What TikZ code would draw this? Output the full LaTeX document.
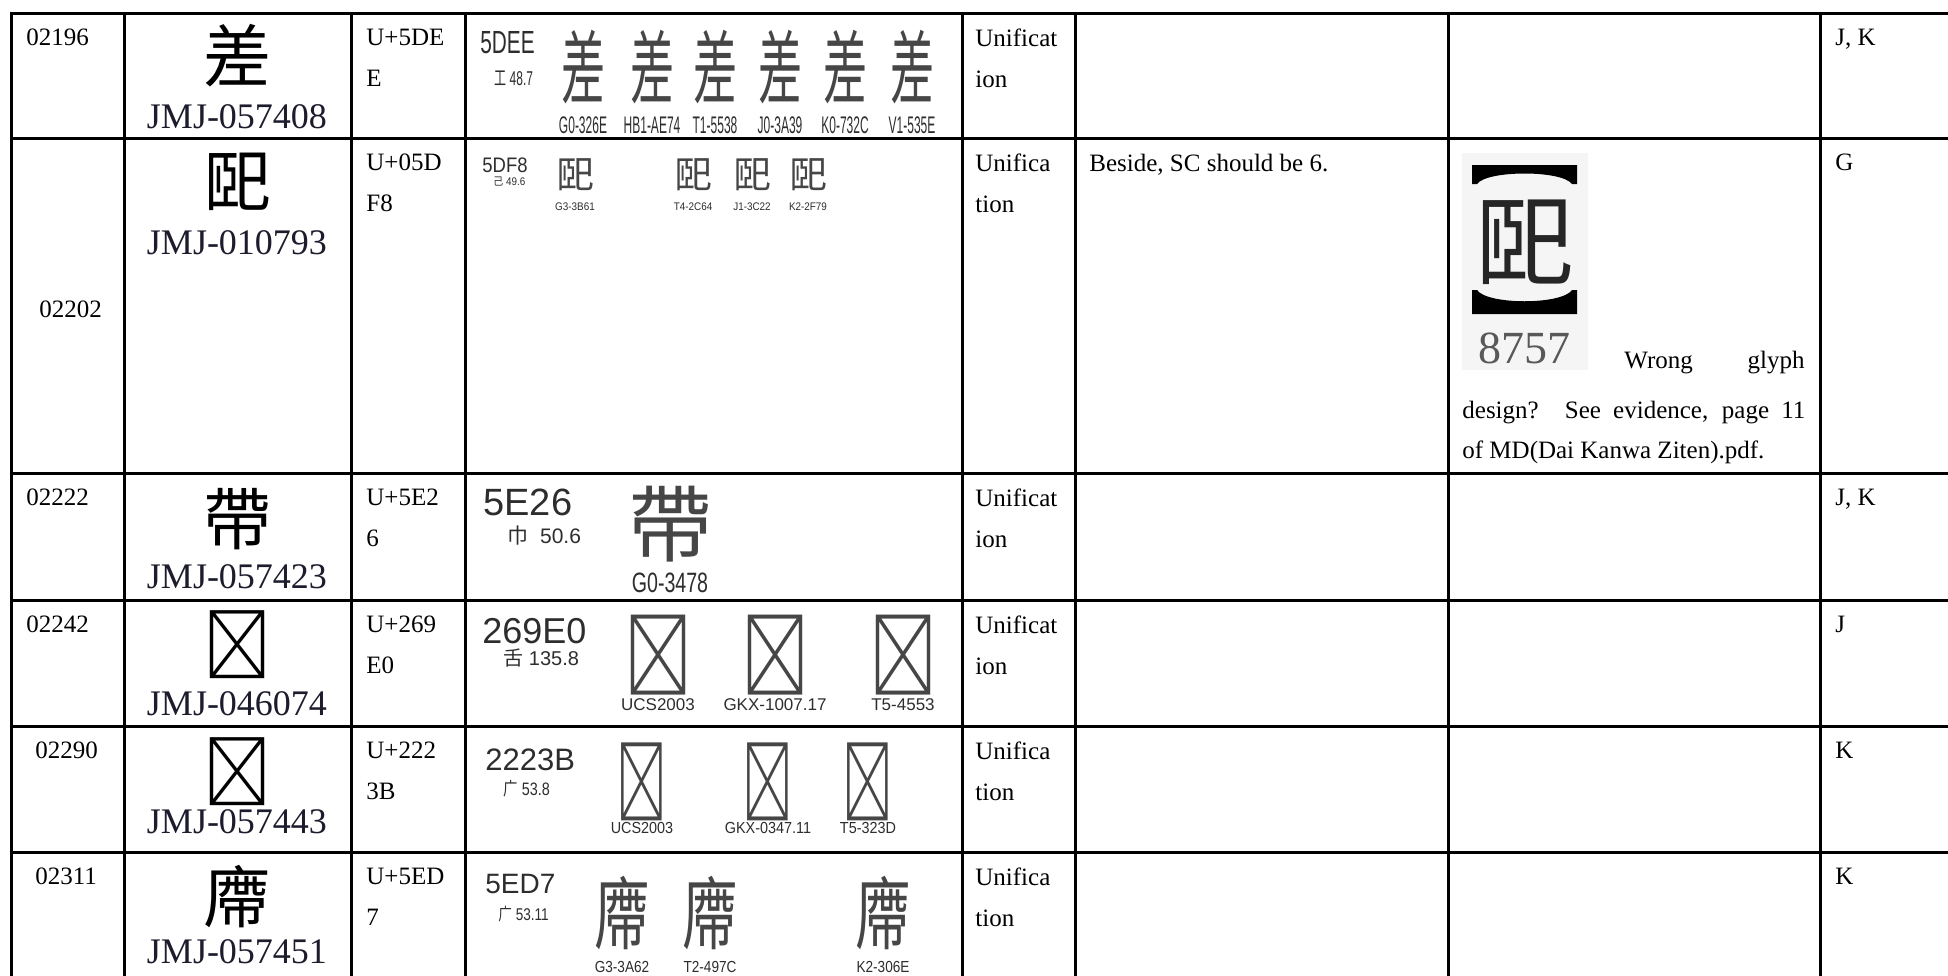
\documentclass[tikz,border=0pt]{standalone}
\usepackage{fontspec}
\setmainfont{Liberation Serif}
\setsansfont{Liberation Sans}
\newfontfamily\cjk{Noto Sans CJK JP}
\usepackage{tikz}
\usetikzlibrary{positioning}

\definecolor{jmjcol}{RGB}{28,28,45}
\definecolor{chartgray}{RGB}{45,45,45}
\definecolor{glyphgray}{RGB}{70,70,70}
\newcommand{\fsz}[1]{\fontsize{#1}{#1}\selectfont}
\newcommand{\squeeze}[2]{\scalebox{#1}[1]{#2}}

\tikzset{
  grid/.style={line width=1.5pt, line cap=rect},
  celltext/.style={anchor=base west, inner sep=0pt, font=\fontsize{12.5}{20}\selectfont},
  bigglyph/.style={anchor=center, inner sep=0pt, font=\cjk\fsz{34}},
  jmjtext/.style={anchor=base, inner sep=0pt, text=jmjcol, font=\fsz{18}},
  charthead/.style={anchor=base west, inner sep=0pt, text=chartgray, font=\sffamily},
  chartglyph/.style={anchor=center, inner sep=0pt, text=glyphgray, font=\cjk},
  chartlabel/.style={anchor=base, inner sep=0pt, text=chartgray, font=\sffamily}
}

\begin{document}
\begin{tikzpicture}[x=0.5pt,y=-0.5pt]
\useasboundingbox (0,0) rectangle (1948,975);

%Grid
\foreach \x in {11,124,351,465,962,1075,1448,1820}
  \draw[grid] (\x,13) -- (\x,976);
\foreach \y in {13,138,473,600,726,852}
  \draw[grid] (11,\y) -- (1949,\y);

%Rows
\foreach \i/\ry/\nx/\ny/\num/\gy/\jy/\glyph/\jmj/\codea/\codeb/\unia/\unib/\src in {
  1/13/26/45/02196/56/128/差/JMJ-057408/U+5DE/E/Unificat/ion/{J, K},
  2/138/39/317/02202/182/254/巸/JMJ-010793/U+05D/F8/Unifica/tion/G,
  3/473/26/505/02222/519/588/帶/JMJ-057423/U+5E2/6/Unificat/ion/{J, K},
  4/600/26/632/02242/645/715/\char"269E0/JMJ-046074/U+269/E0/Unificat/ion/J,
  5/726/35/758/02290/772/833/\char"2223B/JMJ-057443/U+222/3B/Unifica/tion/K,
  6/852/35/884/02311/897/963/廗/JMJ-057451/U+5ED/7/Unifica/tion/K}
{
  \node[celltext] (num\i) at (\nx,\ny) {\num};
  \node[bigglyph] (big\i) at (237,\gy) {\glyph};
  \node[jmjtext] (jmj\i) at (237,\jy) {\jmj};
  \node[celltext] (codea\i) at (366,\ry+32) {\codea};
  \node[celltext] (codeb\i) at (366,\ry+73) {\codeb};
  \node[celltext] (unia\i) at (975,\ry+33) {\unia};
  \node[celltext] (unib\i) at (975,\ry+74) {\unib};
  \node[celltext] (src\i) at (1835,\ry+32) {\src};
}

%Chart 5DEE
\node[charthead] (head1) at (480,53) {\squeeze{0.65}{\fsz{16}5DEE}};
\node[charthead] (rad1) at (494,85) {\squeeze{0.6}{\fsz{10}{\cjk 工} 48.7}};
\foreach \x/\lab [count=\k] in {583/G0-326E,652/HB1-AE74,715/T1-5538,780/J0-3A39,845/K0-732C,912/V1-535E}{
  \node[chartglyph] (gla\k) at (\x,67) {\squeeze{0.55}{\fsz{40}差}};
  \node[chartlabel] (laba\k) at (\x,133) {\squeeze{0.5}{\fsz{12}\lab}};
}

%Chart 5DF8
\node[charthead] (head2) at (482,172) {\squeeze{0.88}{\fsz{10.5}5DF8}};
\node[charthead] (rad2) at (493,185) {\squeeze{0.9}{\fsz{5.5}{\cjk 己} 49.6}};
\foreach \x/\lab [count=\k] in {575/G3-3B61,693/T4-2C64,752/J1-3C22,808/K2-2F79}{
  \node[chartglyph] (glb\k) at (\x,175) {\fsz{19}巸};
  \node[chartlabel] (labb\k) at (\x,210) {\squeeze{0.9}{\fsz{5.5}\lab}};
}

%Chart 5E26
\node[charthead] (head3) at (483,515) {\fsz{19}5E26};
\node[charthead] (rad3) at (507,543) {\fsz{10.5}{\cjk 巾}~~50.6};
\node[chartglyph] (glc1) at (670,524) {\fsz{42}帶};
\node[chartlabel] (labc1) at (670,592) {\squeeze{0.7}{\fsz{14}G0-3478}};

%Chart 269E0
\node[charthead] (head4) at (482,643) {\fsz{18}269E0};
\node[charthead] (rad4) at (503,665) {\fsz{10}{\cjk 舌} 135.8};
\foreach \x/\lab [count=\k] in {658/UCS2003,775/GKX-1007.17,903/T5-4553}{
  \node[chartglyph] (gld\k) at (\x,655) {\squeeze{0.85}{\fsz{40}\char"269E0}};
  \node[chartlabel] (labd\k) at (\x,710) {\fsz{8.5}\lab};
}

%Chart 2223B
\node[charthead] (head5) at (485,770) {\fsz{15.5}2223B};
\node[charthead] (rad5) at (503,795) {\squeeze{0.8}{\fsz{9}{\cjk 广} 53.8}};
\foreach \x/\lab [count=\k] in {642/UCS2003,768/GKX-0347.11,868/T5-323D}{
  \node[chartglyph] (gle\k) at (\x,782) {\squeeze{0.65}{\fsz{39}\char"2223B}};
  \node[chartlabel] (labe\k) at (\x,833) {\squeeze{0.9}{\fsz{8}\lab}};
}

%Chart 5ED7
\node[charthead] (head6) at (485,893) {\fsz{14}5ED7};
\node[charthead] (rad6) at (498,920) {\squeeze{0.8}{\fsz{8.5}{\cjk 广} 53.11}};
\foreach \x/\lab [count=\k] in {622/G3-3A62,710/T2-497C,883/K2-306E}{
  \node[chartglyph] (glf\k) at (\x,913) {\squeeze{0.7}{\fsz{40}廗}};
  \node[chartlabel] (labf\k) at (\x,972) {\squeeze{0.85}{\fsz{8}\lab}};
}

%Comment
\node[celltext] (beside) at (1089,171) {Beside, SC should be 6.};

%Dai Kanwa evidence
\fill[black!4] (1462,153) rectangle (1588,370);
\fill (1472,184) -- (1472,165) -- (1577,165) -- (1577,184) -- (1572,184) .. controls (1562,170) and (1487,170) .. (1477,184) -- cycle;
\fill (1472,290) -- (1472,314) -- (1577,314) -- (1577,290) -- (1572,290) .. controls (1562,305) and (1487,305) .. (1477,290) -- cycle;
\node[chartglyph, text=black!85] (dkglyph) at (1524,242) {\fsz{50}巸};
\node[anchor=base, inner sep=0pt, text=black!65, font=\fsz{23}] (dknum) at (1524,363) {8757};
\node[celltext] (wrong) at (1624,368) {Wrong};
\node[celltext, anchor=base east] (glyphword) at (1805,368) {glyph};
\node[celltext] (design) at (1462,418) {\makebox[171.5pt][s]{design? See evidence, page 11}};
\node[celltext] (ofmd) at (1462,458) {of MD(Dai Kanwa Ziten).pdf.};

\end{tikzpicture}
\end{document}
